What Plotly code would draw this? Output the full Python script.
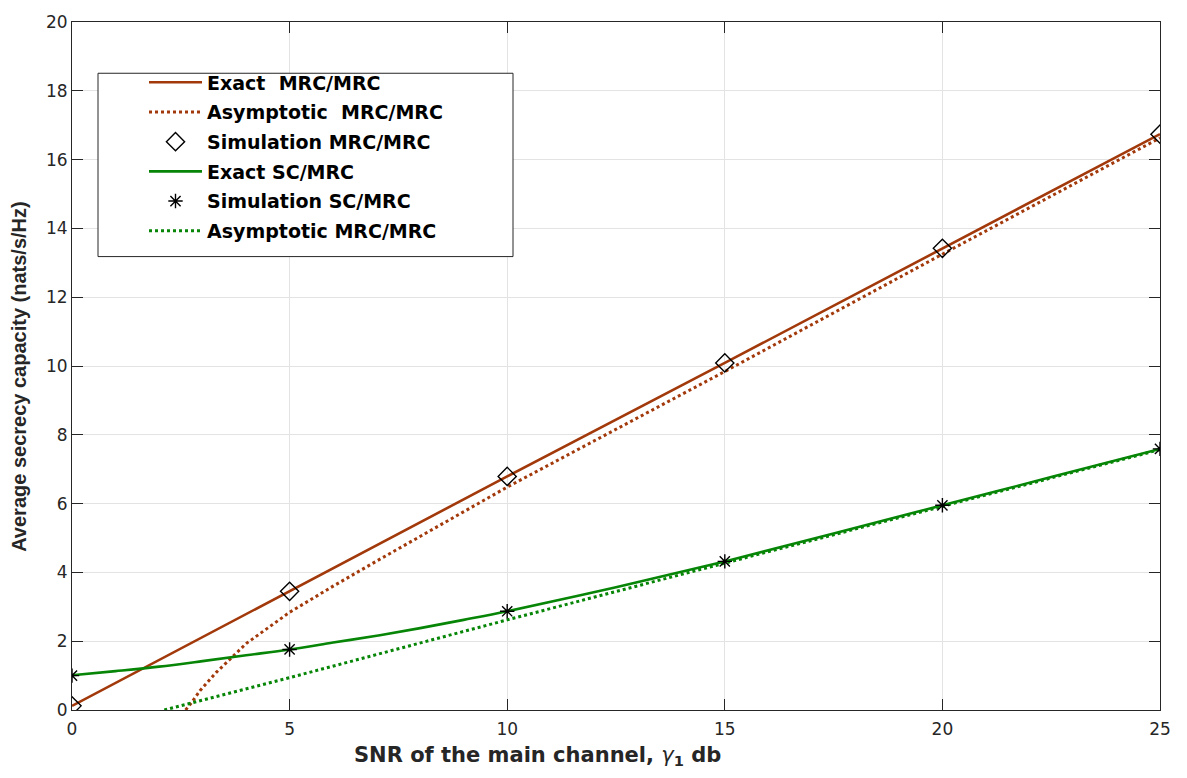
import plotly.graph_objects as go

# ---- data -------------------------------------------------------------
snr_sim = [0, 5, 10, 15, 20, 25]

exact_mrc_x = [0, 5, 10, 15, 20, 25]
exact_mrc_y = [0.12, 3.45, 6.79, 10.09, 13.42, 16.74]

asym_mrc_x = [2.61, 2.75, 2.94, 3.32, 3.7, 4.0, 5, 6, 7, 8, 9, 10, 15, 20, 25]
asym_mrc_y = [0.0, 0.22, 0.56, 1.1, 1.56, 1.93, 2.84, 3.6, 4.33, 5.05, 5.77, 6.48, 9.84, 13.25, 16.63]

sim_mrc_y = [0.12, 3.45, 6.79, 10.09, 13.42, 16.74]

exact_sc_x = [0, 1, 2, 3, 4, 5, 6, 7, 8, 9, 10, 12.5, 15, 17.5, 20, 22.5, 25]
exact_sc_y = [1.01, 1.13, 1.26, 1.42, 1.59, 1.76, 1.96, 2.16, 2.38, 2.62, 2.87,
              3.57, 4.32, 5.13, 5.95, 6.77, 7.59]

sim_sc_y = [1.0, 1.76, 2.87, 4.32, 5.95, 7.59]

asym_sc_x = [2.12, 5, 10, 15, 20, 25]
asym_sc_y = [0.0, 0.94, 2.62, 4.27, 5.92, 7.57]

x_ticks = [0, 5, 10, 15, 20, 25]
y_ticks = [0, 2, 4, 6, 8, 10, 12, 14, 16, 18, 20]

# ---- styling ----------------------------------------------------------
BROWN = "#a2390b"
GREEN = "#068506"
AXIS = "#262626"
GRID = "#e3e3e3"
NBSP = "\u00a0"

W, H = 1187, 778
M_L, M_R, M_T, M_B = 72, 27, 12, 68
PW = W - M_L - M_R
PH = H - M_T - M_B


def px_x(p):
    """pixel column -> paper x"""
    return (p - M_L) / PW


def px_y(p):
    """pixel row -> paper y"""
    return (H - M_B - p) / PH


fig = go.Figure()

# lines first, markers on top; legendrank keeps the legend order
fig.add_trace(go.Scatter(
    x=exact_mrc_x, y=exact_mrc_y, mode="lines",
    name=f"Exact{NBSP} MRC/MRC", legendrank=1, legendgroup="a",
    line=dict(color=BROWN, width=2.6)))
fig.add_trace(go.Scatter(
    x=asym_mrc_x, y=asym_mrc_y, mode="lines",
    name=f"Asymptotic{NBSP} MRC/MRC", legendrank=2, legendgroup="b",
    line=dict(color=BROWN, width=3, dash="dot")))
fig.add_trace(go.Scatter(
    x=exact_sc_x, y=exact_sc_y, mode="lines", line_shape="spline",
    name="Exact SC/MRC", legendrank=4, legendgroup="d",
    line=dict(color=GREEN, width=2.6)))
fig.add_trace(go.Scatter(
    x=asym_sc_x, y=asym_sc_y, mode="lines",
    name="Asymptotic MRC/MRC", legendrank=6, legendgroup="f",
    line=dict(color=GREEN, width=3, dash="dot")))
fig.add_trace(go.Scatter(
    x=snr_sim, y=sim_mrc_y, mode="markers",
    name="Simulation MRC/MRC", legendrank=3, legendgroup="c",
    marker=dict(symbol="diamond-open", size=14, color="black",
                line=dict(color="black", width=1.4))))
fig.add_trace(go.Scatter(
    x=snr_sim, y=sim_sc_y, mode="markers",
    name="Simulation SC/MRC", legendrank=5, legendgroup="e",
    marker=dict(symbol="asterisk-open", size=12, color="black",
                line=dict(color="black", width=1.4))))

axis_common = dict(
    showline=True, linecolor=AXIS, linewidth=1, mirror="ticks",
    ticks="inside", ticklen=11, tickwidth=1, tickcolor=AXIS,
    showgrid=True, gridcolor=GRID, gridwidth=1, zeroline=False,
    tickfont=dict(family="DejaVu Sans", size=17, color=AXIS),
)

fig.update_xaxes(range=[0, 25], tickvals=x_ticks, ticklabelstandoff=4, **axis_common)
fig.update_yaxes(range=[0, 20], tickvals=y_ticks, **axis_common)

# axis titles
fig.add_annotation(
    x=px_x(537), y=px_y(757), xref="paper", yref="paper",
    xanchor="center", yanchor="middle", showarrow=False,
    text="SNR of the main channel, <span style='font-weight:normal'><i>γ</i></span><sub>1</sub> db",
    font=dict(family="DejaVu Sans", size=21, color=AXIS, weight="bold"))
fig.add_annotation(
    x=px_x(19), y=px_y(372), xref="paper", yref="paper",
    xanchor="center", yanchor="middle", showarrow=False, textangle=-90,
    text="Average secrecy capacity (nats/s/Hz)",
    font=dict(family="Liberation Sans", size=20, color=AXIS, weight="bold"))

# legend frame
fig.add_shape(
    type="rect", xref="paper", yref="paper", layer="above",
    x0=px_x(98), x1=px_x(513), y0=px_y(250), y1=px_y(64),
    fillcolor="white", line=dict(color=AXIS, width=1))

fig.update_layout(
    width=W, height=H,
    margin=dict(l=M_L, r=M_R, t=M_T, b=M_B),
    plot_bgcolor="white", paper_bgcolor="white",
    showlegend=True,
    legend=dict(
        x=px_x(144), y=px_y(54), xanchor="left", yanchor="top",
        bgcolor="rgba(0,0,0,0)", borderwidth=0,
        font=dict(family="DejaVu Sans", size=19, color="black", weight="bold"),
        itemwidth=53, tracegroupgap=2, traceorder="grouped",
    ),
)

fig.write_html("out.html")
